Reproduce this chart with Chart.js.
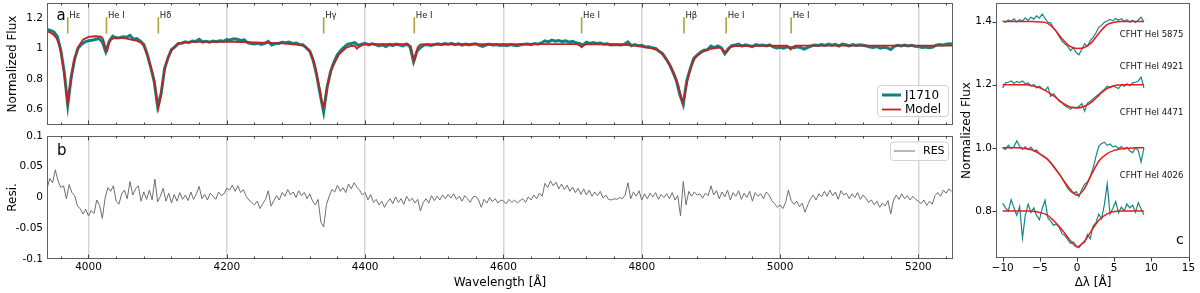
<!DOCTYPE html>
<html><head><meta charset="utf-8">
<script src="https://cdn.jsdelivr.net/npm/chart.js@4.4.0/dist/chart.umd.min.js"></script>
<style>
html,body{margin:0;padding:0;background:#fff;width:1200px;height:293px;overflow:hidden;}
.p{position:absolute;}
</style></head><body>
<div class="p" style="left:0;top:0;width:960px;height:130px"><canvas id="ca" width="960" height="130"></canvas></div>
<div class="p" style="left:0;top:130px;width:960px;height:163px"><canvas id="cb" width="960" height="163"></canvas></div>
<div class="p" style="left:960px;top:0;width:240px;height:293px"><canvas id="cc" width="240" height="293"></canvas></div>
<script>
// ---------------- DATA ----------------
// Panel a: model spectrum (wavelength, normalized flux)
const modelWave = [3940,3945,3950,3954,3958,3961,3964,3966,3968,3970,3972,3974,3978,3981,3985,3992,4000,4010,4018,4021,4023,4025,4027,4029,4032,4040,4055,4070,4076,4080,4085,4088,4092,4096,4099,4101,4103,4106,4110,4115,4120,4126,4133,4150,4210,4250,4280,4300,4310,4316,4320,4324,4328,4331,4335,4337,4339.5,4342,4345,4348,4352,4355,4362,4372,4380,4385,4388,4391,4396,4410,4462,4466,4469,4471,4473,4476,4480,4600,4706,4710,4713,4716,4720,4770,4790,4800,4815,4824,4830,4836,4841,4846,4850,4853,4856,4859,4862,4865,4868,4872,4877,4887,4900,4912,4916,4919,4921,4924,4928,4935,5010,5013,5015,5018,5022,5250];
const modelFlux = [1.115,1.105,1.09,1.068,1.02,0.95,0.86,0.80,0.71,0.638,0.70,0.775,0.89,0.95,1.01,1.06,1.078,1.082,1.08,1.065,1.035,0.99,0.985,1.025,1.06,1.074,1.066,1.052,1.04,1.02,0.96,0.915,0.85,0.77,0.66,0.61,0.65,0.74,0.86,0.945,0.99,1.02,1.038,1.045,1.046,1.04,1.035,1.027,1.02,1.005,0.98,0.94,0.88,0.81,0.72,0.66,0.615,0.665,0.75,0.81,0.87,0.90,0.962,1.005,1.018,1.02,1.0,1.012,1.025,1.03,1.03,1.015,0.95,0.92,0.95,1.01,1.028,1.03,1.03,1.022,1.01,1.022,1.03,1.028,1.02,1.014,1.003,0.99,0.965,0.93,0.89,0.84,0.795,0.755,0.70,0.645,0.70,0.77,0.83,0.89,0.943,0.978,1.0,1.008,1.0,0.98,0.972,0.985,1.01,1.018,1.02,1.01,0.995,1.01,1.02,1.02];
// Panel a: observed J1710 spectrum, sampled every 5 A from 3940 A
const obsStart = 3940, obsStep = 5;
const obsFlux = [
1.126,1.12,1.11,1.08,0.99,0.845,0.632,0.815,0.935,1.005,
1.03,1.045,1.052,1.056,1.06,1.068,1.045,0.98,1.05,1.082,
1.07,1.072,1.078,1.075,1.088,1.062,1.066,1.05,1.027,0.963,
0.878,0.785,0.62,0.705,0.87,0.94,0.995,1.012,1.035,1.036,
1.045,1.04,1.05,1.047,1.062,1.044,1.049,1.043,1.05,1.046,
1.052,1.049,1.06,1.058,1.065,1.062,1.055,1.058,1.04,1.035,
1.032,1.036,1.028,1.035,1.048,1.025,1.034,1.035,1.043,1.04,
1.044,1.033,1.037,1.028,1.027,1.006,0.985,0.922,0.825,0.70,
0.585,0.745,0.85,0.915,0.962,0.99,1.012,1.03,1.034,1.04,
1.022,1.03,1.036,1.025,1.033,1.027,1.018,1.026,1.015,1.028,
1.021,1.03,1.024,1.019,1.031,1.012,0.915,0.985,1.008,1.024,
1.028,1.021,1.027,1.032,1.026,1.034,1.029,1.035,1.027,1.033,
1.024,1.031,1.025,1.03,1.033,1.022,1.015,1.026,1.03,1.023,
1.028,1.021,1.025,1.02,1.027,1.023,1.02,1.026,1.029,1.031,
1.027,1.034,1.03,1.038,1.052,1.045,1.057,1.049,1.054,1.047,
1.052,1.043,1.048,1.039,1.035,1.024,1.043,1.035,1.041,1.034,
1.038,1.03,1.033,1.025,1.027,1.026,1.024,1.03,1.045,1.02,
1.028,1.02,1.022,1.012,1.013,1.006,1.002,0.983,0.968,0.934,
0.897,0.848,0.792,0.70,0.635,0.79,0.868,0.935,0.958,0.977,
0.99,0.994,1.018,1.008,1.018,1.006,0.968,1.0,1.02,1.024,
1.03,1.017,1.026,1.02,1.014,1.027,1.021,1.025,1.018,1.026,
1.012,1.005,1.009,1.003,1.012,1.006,1.006,1.012,1.008,0.998,
1.009,1.018,1.024,1.021,1.027,1.022,1.03,1.024,1.029,1.017,
1.03,1.026,1.019,1.027,1.021,1.026,1.023,1.018,1.012,1.008,
1.014,1.004,1.01,1.006,0.995,1.016,1.022,1.018,1.024,1.019,
1.023,1.017,1.014,1.009,1.012,1.007,1.01,1.022,1.027,1.024,
1.03,1.033,1.03];
// Panel b: residuals, sampled every 4 A from 3940 A
const resStart = 3940, resStep = 4;
const resValues = [
0.014,0.031,0.024,0.045,0.027,0.016,0.019,-0.002,0.021,0.008,0.003,-0.014,-0.018,-0.027,-0.019,-0.03,-0.021,-0.026,-0.004,-0.013,-0.034,-0.001,0.016,0.01,0.019,
-0.006,-0.011,0.006,0.012,-0.002,0.026,0.004,0.014,0.019,-0.006,0.009,-0.003,0.012,-0.004,0.03,-0.007,0.002,0.015,-0.006,0.007,-0.009,0.005,-0.006,0.008,-0.003,
0.004,-0.005,0.009,-0.003,0.006,0.018,-0.002,0.005,-0.004,0.007,0.002,-0.003,0.009,0.003,0.006,0.015,0.012,0.02,0.01,0.019,0.008,0.013,0.002,-0.004,-0.008,
-0.012,-0.006,-0.018,-0.01,-0.003,0.011,-0.014,-0.005,0.003,-0.004,0.008,0.002,0.013,0.004,0.009,0.0,0.011,0.003,0.008,-0.002,0.006,-0.006,-0.012,-0.003,-0.04,
-0.048,-0.012,0.002,0.013,0.009,0.02,0.01,0.016,0.008,0.022,0.014,0.024,0.017,0.012,0.004,0.008,-0.004,0.005,-0.008,-0.003,-0.012,-0.006,-0.016,-0.008,-0.002,
-0.01,0.001,-0.008,-0.002,-0.011,0.002,-0.006,-0.001,-0.009,-0.003,-0.022,-0.008,-0.002,-0.009,0.003,-0.005,0.002,-0.004,0.004,-0.002,0.005,-0.001,0.006,-0.003,0.002,
-0.006,0.003,-0.002,-0.008,0.001,0.002,-0.004,-0.016,-0.003,-0.009,0.0,-0.007,-0.002,-0.009,-0.004,-0.006,-0.01,-0.003,-0.008,-0.004,-0.009,-0.005,-0.002,-0.008,0.001,
-0.004,0.004,-0.002,0.007,0.002,0.023,0.016,0.027,0.019,0.025,0.014,0.022,0.013,0.02,0.01,0.017,0.008,0.015,0.005,0.014,0.004,0.012,0.002,0.009,0.003,
0.01,-0.001,0.004,-0.003,-0.004,-0.002,-0.003,0.0,-0.002,0.004,0.024,-0.002,0.009,0.002,0.011,-0.004,0.006,-0.002,0.007,0.001,0.008,-0.003,0.005,0.0,0.006,
-0.002,0.008,-0.004,0.003,-0.03,0.026,-0.012,0.01,0.002,0.009,0.004,0.006,-0.001,0.007,0.003,0.019,0.004,0.011,-0.002,0.009,0.001,0.012,-0.004,0.008,0.002,
0.011,-0.003,0.007,0.0,0.01,-0.006,0.008,0.002,0.006,-0.002,0.009,0.004,-0.005,-0.01,-0.016,-0.012,-0.018,-0.008,0.012,-0.005,-0.011,-0.006,-0.015,-0.009,-0.024,
-0.012,-0.002,0.004,-0.004,0.006,0.001,0.01,0.002,0.012,0.003,0.009,-0.003,0.011,0.004,0.007,-0.002,0.006,0.0,0.008,-0.003,0.004,-0.001,-0.008,-0.004,-0.012,
-0.006,-0.016,-0.009,-0.014,-0.005,-0.027,-0.004,0.004,-0.003,0.006,-0.002,0.003,-0.004,0.002,-0.003,-0.006,-0.01,-0.004,-0.013,-0.006,-0.011,0.003,0.008,0.002,0.012,
0.007,0.014,0.01];
// Line identifications
const lineWave = [3970,4026,4101,4340,4471,4713,4861,4922,5016];
const lineName = ['H\u03b5','He I','H\u03b4','H\u03b3','He I','He I','H\u03b2','He I','He I'];
// Axis ticks
const xMajorTicks = [4000,4200,4400,4600,4800,5000,5200];
const xTickLabels = ['4000','4200','4400','4600','4800','5000','5200'];
const yTicksA = [0.6,0.8,1.0,1.2];
const yTickLabelsA = ['0.6','0.8','1','1.2'];
const yTicksB = [-0.1,-0.05,0,0.05,0.1];
const yTickLabelsB = ['-0.1','-0.05','0','0.05','0.1'];
// Panel c: He I profiles (offset), data every 0.38 A from -10 A; model every 1 A from -10 A
const profStart = -10, profStep = 0.38;
const modelStart = -10, modelStep = 1;
const profNames = ['CFHT HeI 5875','CFHT HeI 4921','CFHT HeI 4471','CFHT HeI 4026'];
const data5875 = [1.402,1.398,1.405,1.401,1.409,1.399,1.406,1.402,1.412,1.404,1.414,1.408,1.418,1.411,1.424,1.41,1.398,1.396,1.38,1.368,1.352,1.338,1.33,1.322,1.308,1.318,1.302,1.295,1.312,1.33,1.322,1.34,1.35,1.364,1.382,1.388,1.398,1.402,1.407,1.403,1.41,1.404,1.409,1.401,1.406,1.398,1.404,1.397,1.405,1.414,1.399];
const data4921 = [1.19,1.206,1.208,1.212,1.205,1.21,1.207,1.212,1.203,1.206,1.196,1.201,1.19,1.195,1.188,1.182,1.193,1.163,1.172,1.16,1.148,1.142,1.133,1.128,1.122,1.13,1.127,1.131,1.14,1.116,1.142,1.148,1.155,1.163,1.17,1.178,1.186,1.195,1.19,1.196,1.192,1.188,1.2,1.195,1.203,1.197,1.206,1.208,1.212,1.224,1.19];
const data4471 = [1.0,0.995,1.008,0.998,1.004,1.022,1.005,0.995,1.003,0.994,1.002,0.99,0.993,0.982,0.974,0.969,0.962,0.952,0.94,0.928,0.918,0.905,0.888,0.872,0.862,0.855,0.861,0.845,0.868,0.884,0.892,0.91,0.935,0.972,1.005,1.014,1.018,1.008,1.012,1.003,1.006,0.998,1.004,0.996,1.002,0.99,0.985,1.0,0.992,0.955,1.0];
const data4026 = [0.824,0.81,0.8,0.836,0.81,0.786,0.814,0.714,0.786,0.822,0.795,0.81,0.786,0.772,0.808,0.834,0.778,0.768,0.755,0.758,0.748,0.728,0.722,0.71,0.697,0.702,0.69,0.684,0.696,0.7,0.725,0.712,0.752,0.762,0.79,0.775,0.82,0.886,0.79,0.808,0.83,0.794,0.812,0.8,0.822,0.81,0.818,0.796,0.826,0.806,0.788];
const model5875 = [1.4,1.4,1.4,1.4,1.4,1.399,1.395,1.375,1.345,1.322,1.315,1.318,1.335,1.365,1.39,1.398,1.4,1.4,1.4,1.4];
const model4921 = [1.2,1.2,1.2,1.2,1.197,1.19,1.178,1.162,1.143,1.13,1.126,1.132,1.146,1.168,1.188,1.197,1.2,1.2,1.2,1.2];
const model4471 = [1.0,1.0,1.0,0.998,0.993,0.981,0.965,0.937,0.903,0.871,0.85,0.871,0.918,0.96,0.981,0.992,0.997,0.999,1.0,1.0];
const model4026 = [0.8,0.8,0.8,0.8,0.799,0.795,0.787,0.766,0.74,0.709,0.686,0.704,0.74,0.772,0.79,0.798,0.8,0.8,0.8,0.8];
const xTicksC = [-10,-5,0,5,10,15];
const xTickLabelsC = ['\u221210','\u22125','0','5','10','15'];
const yTicksC = [0.8,1.0,1.2,1.4];
const yTickLabelsC = ['0.8','1.0','1.2','1.4'];

// ---------------- STYLE ----------------
const FONT = "'DejaVu Sans', sans-serif";
Chart.defaults.font.family = FONT;
Chart.defaults.color = '#000';
const TEAL = '#13807f', RED = '#c42020', GRIDC = 'rgba(0,0,0,0.16)', FRAME = '#606060', MARK = '#a9a536';
const TEAL_C = '#13888a', RED_C = '#f01818', RESC = '#6e6e6e';

const pts = (xs, ys) => ys.map((y, i) => ({x: xs[i], y}));
const grid = (start, step, n) => Array.from({length: n}, (_, i) => +(start + i * step).toFixed(3));
const setTicks = (arr) => (s) => { s.ticks = arr.map(v => ({value: v})); };
const fixW = (w) => (s) => { s.width = w; s.paddingTop = 0; s.paddingBottom = 0; s.paddingLeft = 0; s.paddingRight = 0; };
const fixH = (h) => (s) => { s.height = h; s.paddingTop = 0; s.paddingBottom = 0; s.paddingLeft = 0; s.paddingRight = 0; };

function frame(ctx, a) {
  ctx.save();
  ctx.strokeStyle = FRAME; ctx.lineWidth = 1;
  ctx.strokeRect(Math.round(a.left) + 0.5, Math.round(a.top) + 0.5, Math.round(a.right - a.left) - 1, Math.round(a.bottom - a.top) - 1);
  ctx.restore();
}
function inwardXTicks(chart) {
  const {ctx, chartArea: a, scales: {x}} = chart;
  ctx.save(); ctx.strokeStyle = '#444'; ctx.lineWidth = 1;
  for (let v = 3960; v <= 5240; v += 40) {
    const major = xMajorTicks.includes(v);
    const L = major ? 4.5 : 2.5;
    const px = Math.round(x.getPixelForValue(v)) + 0.5;
    ctx.beginPath();
    ctx.moveTo(px, a.bottom); ctx.lineTo(px, a.bottom - L);
    ctx.moveTo(px, a.top); ctx.lineTo(px, a.top + L);
    ctx.stroke();
  }
  ctx.restore();
}
function legendBox(ctx, x, y, w, h) {
  ctx.save();
  ctx.fillStyle = 'rgba(255,255,255,0.85)'; ctx.strokeStyle = '#d2d2d2'; ctx.lineWidth = 1;
  ctx.beginPath();
  if (ctx.roundRect) ctx.roundRect(x + 0.5, y + 0.5, w, h, 3); else ctx.rect(x + 0.5, y + 0.5, w, h);
  ctx.fill(); ctx.stroke();
  ctx.restore();
}

// ---------------- PANEL A ----------------
const panelA = {
  id: 'panelA',
  afterDraw(chart) {
    const {ctx, chartArea: a, scales: {x, y}} = chart;
    frame(ctx, a);
    inwardXTicks(chart);
    ctx.save();
    const yLo = y.getPixelForValue(1.10), yHi = y.getPixelForValue(1.207), yTxt = y.getPixelForValue(1.2);
    ctx.strokeStyle = MARK; ctx.lineWidth = 1.6;
    ctx.fillStyle = '#222'; ctx.font = '8.5px ' + FONT; ctx.textBaseline = 'alphabetic'; ctx.textAlign = 'left';
    lineWave.forEach((w, i) => {
      const px = x.getPixelForValue(w);
      ctx.beginPath(); ctx.moveTo(px, yLo); ctx.lineTo(px, yHi); ctx.stroke();
      ctx.fillText(lineName[i], px + 1.5, yTxt);
    });
    ctx.fillStyle = '#000'; ctx.font = '15px ' + FONT;
    ctx.fillText('a', a.left + 9.5, a.top + 17);
    ctx.restore();
    const ds = chart.data.datasets;
    const bx = a.right - 76, by = a.bottom - 40;
    legendBox(ctx, bx, by, 71, 31);
    ctx.save();
    ctx.font = '12px ' + FONT; ctx.textBaseline = 'middle'; ctx.fillStyle = '#000';
    [ds[1], ds[0]].forEach((d, i) => {
      const ly = by + 10 + i * 14.5;
      ctx.strokeStyle = d.borderColor; ctx.lineWidth = d.borderWidth;
      ctx.beginPath(); ctx.moveTo(bx + 5, ly); ctx.lineTo(bx + 24, ly); ctx.stroke();
      ctx.fillText(d.label, bx + 28, ly + 0.5);
    });
    ctx.restore();
  }
};
new Chart(document.getElementById('ca'), {
  type: 'line',
  data: { datasets: [
    {label: 'Model', data: pts(modelWave, modelFlux), borderColor: RED, borderWidth: 1.8, pointRadius: 0, tension: 0, clip: 0},
    {label: 'J1710', data: pts(grid(obsStart, obsStep, obsFlux.length), obsFlux), borderColor: TEAL, borderWidth: 3, pointRadius: 0, tension: 0, clip: 0}
  ]},
  options: {
    responsive: false, animation: false, devicePixelRatio: 1, events: [],
    layout: {padding: {left: 0, right: 7, top: 3, bottom: 5}},
    plugins: {legend: {display: false}, tooltip: {enabled: false}},
    scales: {
      x: {type: 'linear', min: 3940, max: 5250, afterBuildTicks: setTicks(xMajorTicks), afterFit: fixH(0),
          ticks: {display: false, autoSkip: false}, grid: {color: GRIDC, lineWidth: 1.5, drawTicks: false}, border: {display: false}},
      y: {min: 0.5, max: 1.3, afterBuildTicks: setTicks(yTicksA), afterFit: fixW(47),
          ticks: {callback: (v, i) => yTickLabelsA[i], padding: 4, font: {size: 10.5}, color: '#000', autoSkip: false},
          grid: {display: false, drawTicks: false}, border: {display: false},
          title: {display: true, text: 'Normalized Flux', font: {size: 12}, color: '#000', padding: {top: 6, bottom: 0}}}
    }
  },
  plugins: [panelA]
});

// ---------------- PANEL B ----------------
const panelB = {
  id: 'panelB',
  afterDraw(chart) {
    const {ctx, chartArea: a} = chart;
    frame(ctx, a);
    inwardXTicks(chart);
    ctx.save();
    ctx.fillStyle = '#000'; ctx.font = '15px ' + FONT; ctx.textBaseline = 'alphabetic';
    ctx.fillText('b', a.left + 10, a.top + 19);
    ctx.restore();
    const d = chart.data.datasets[0];
    const bx = a.right - 63, by = a.top + 5.5;
    legendBox(ctx, bx, by, 58, 18.5);
    ctx.save();
    ctx.strokeStyle = d.borderColor; ctx.lineWidth = d.borderWidth;
    ctx.beginPath(); ctx.moveTo(bx + 4, by + 9.5); ctx.lineTo(bx + 25, by + 9.5); ctx.stroke();
    ctx.font = '11px ' + FONT; ctx.textBaseline = 'middle'; ctx.fillStyle = '#000';
    ctx.fillText(d.label, bx + 33, by + 10);
    ctx.restore();
  }
};
new Chart(document.getElementById('cb'), {
  type: 'line',
  data: { datasets: [
    {label: 'RES', data: pts(grid(resStart, resStep, resValues.length), resValues), borderColor: RESC, borderWidth: 1, pointRadius: 0, tension: 0, clip: 0}
  ]},
  options: {
    responsive: false, animation: false, devicePixelRatio: 1, events: [],
    layout: {padding: {left: 0, right: 7, top: 6, bottom: 0}},
    plugins: {legend: {display: false}, tooltip: {enabled: false}},
    scales: {
      x: {type: 'linear', min: 3940, max: 5250, afterBuildTicks: setTicks(xMajorTicks), afterFit: fixH(34),
          ticks: {callback: (v, i) => xTickLabels[i], padding: 2, font: {size: 10.5}, color: '#000', autoSkip: false, maxRotation: 0},
          grid: {color: GRIDC, lineWidth: 1.5, drawTicks: false}, border: {display: false},
          title: {display: true, text: 'Wavelength [\u00c5]', font: {size: 12}, color: '#000', padding: {top: 0, bottom: 3}}},
      y: {min: -0.1, max: 0.1, afterBuildTicks: setTicks(yTicksB), afterFit: fixW(47),
          ticks: {callback: (v, i) => yTickLabelsB[i], padding: 4, font: {size: 10.5}, color: '#000', autoSkip: false},
          grid: {display: false, drawTicks: false}, border: {display: false},
          title: {display: true, text: 'Resi.', font: {size: 12}, color: '#000', padding: {top: 6, bottom: 0}}}
    }
  },
  plugins: [panelB]
});

// ---------------- PANEL C ----------------
const profLabelPos = {x: 5.75, y: [1.358, 1.258, 1.11, 0.91]};
const panelC = {
  id: 'panelC',
  afterDraw(chart) {
    const {ctx, chartArea: a, scales: {x, y}} = chart;
    frame(ctx, a);
    ctx.save();
    ctx.strokeStyle = '#333'; ctx.lineWidth = 1;
    xTicksC.forEach(v => { const px = Math.round(x.getPixelForValue(v)) + 0.5; ctx.beginPath(); ctx.moveTo(px, a.bottom); ctx.lineTo(px, a.bottom + 3.5); ctx.stroke(); });
    yTicksC.forEach(v => { const py = Math.round(y.getPixelForValue(v)) + 0.5; ctx.beginPath(); ctx.moveTo(a.left, py); ctx.lineTo(a.left - 3.5, py); ctx.stroke(); });
    ctx.fillStyle = '#111'; ctx.font = '8.5px ' + FONT; ctx.textBaseline = 'middle'; ctx.textAlign = 'left';
    profNames.forEach((n, i) => ctx.fillText(n, x.getPixelForValue(profLabelPos.x), y.getPixelForValue(profLabelPos.y[i])));
    ctx.fillStyle = '#000'; ctx.font = '14px ' + FONT; ctx.textBaseline = 'alphabetic';
    ctx.fillText('c', a.right - 14, a.bottom - 14);
    ctx.restore();
  }
};
const profX = grid(profStart, profStep, data5875.length);
const modX = grid(modelStart, modelStep, model5875.length);
const mk = (d, c, w, lbl) => ({label: lbl, data: d, borderColor: c, borderWidth: w, pointRadius: 0, tension: 0, clip: 0});
const mkM = (d, lbl) => Object.assign(mk(d, RED_C, 1.5, lbl), {cubicInterpolationMode: 'monotone'});
new Chart(document.getElementById('cc'), {
  type: 'line',
  data: { datasets: [
    mkM(pts(modX, model5875), 'm5875'), mkM(pts(modX, model4921), 'm4921'), mkM(pts(modX, model4471), 'm4471'), mkM(pts(modX, model4026), 'm4026'),
    mk(pts(profX, data5875), TEAL_C, 1.2, 'd5875'), mk(pts(profX, data4921), TEAL_C, 1.2, 'd4921'),
    mk(pts(profX, data4471), TEAL_C, 1.2, 'd4471'), mk(pts(profX, data4026), TEAL_C, 1.2, 'd4026')
  ]},
  options: {
    responsive: false, animation: false, devicePixelRatio: 1, events: [],
    layout: {padding: {left: 0, right: 10, top: 3, bottom: 0}},
    plugins: {legend: {display: false}, tooltip: {enabled: false}},
    scales: {
      x: {type: 'linear', min: -10.9, max: 15.2, afterBuildTicks: setTicks(xTicksC), afterFit: fixH(35),
          ticks: {callback: (v, i) => xTickLabelsC[i], padding: 4, font: {size: 10.5}, color: '#000', autoSkip: false, maxRotation: 0},
          grid: {display: false, drawTicks: false}, border: {display: false},
          title: {display: true, text: '\u0394\u03bb [\u00c5]', font: {size: 12}, color: '#000', padding: {top: 0, bottom: 3}}},
      y: {min: 0.651, max: 1.459, afterBuildTicks: setTicks(yTicksC), afterFit: fixW(36),
          ticks: {callback: (v, i) => yTickLabelsC[i], padding: 4, font: {size: 10.5}, color: '#000', autoSkip: false},
          grid: {display: false, drawTicks: false}, border: {display: false},
          title: {display: true, text: 'Normalized Flux', font: {size: 12}, color: '#000', padding: {top: 0, bottom: 0}}}
    }
  },
  plugins: [panelC]
});
</script>
</body></html>
